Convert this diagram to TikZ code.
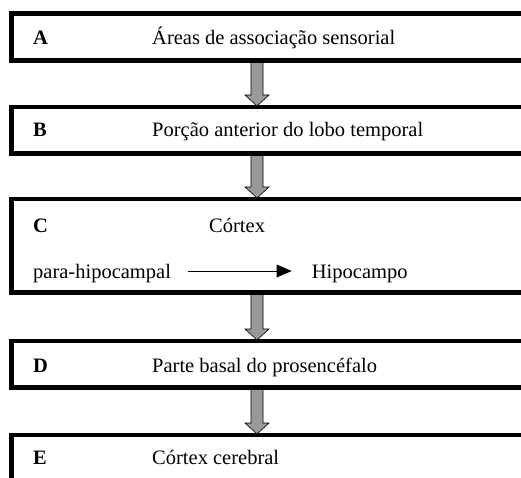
\documentclass[tikz,border=0pt]{standalone}
\usepackage{fontspec}
\setmainfont{Liberation Serif}
\usetikzlibrary{calc,arrows.meta}
\definecolor{arrowgray}{RGB}{153,153,153}
\newcommand\blkarrow[2]{%
  \draw[blockar] ($(#1)+(-6,0)$) -- ($(#2)+(-6,-11)$) -- ($(#2)+(-12,-11)$) -- (#2)
    -- ($(#2)+(12,-11)$) -- ($(#2)+(6,-11)$) -- ($(#1)+(6,0)$) -- cycle;}
\begin{document}
\begin{tikzpicture}[x=1pt,y=-1pt,
  box/.style={draw=black, line width=4.5pt, minimum width=540pt, minimum height=#1,
    anchor=north west, inner sep=0pt, outer sep=0pt},
  lbl/.style={anchor=base west, inner sep=0pt, font=\bfseries\fontsize{20.5}{24}\selectfont},
  txt/.style={anchor=base west, inner sep=0pt, font=\fontsize{20.5}{24}\selectfont},
  blockar/.style={fill=arrowgray, draw=black, line width=0.6pt, line join=miter},
  smallar/.style={line width=0.8pt, -{Triangle[length=15pt,width=12.7pt]}}]
\clip (0,0) rectangle (521,478);
\fill[white] (0,0) rectangle (521,478);
% boxes
\node[box=47pt]   (A) at (11.5,13.5) {};
\node[box=46.5pt] (B) at (11.5,107) {};
\node[box=93.5pt] (C) at (11.5,199) {};
\node[box=46.5pt] (D) at (11.5,341) {};
\node[box=80pt]   (E) at (11.5,435) {};
% arrow axis
\coordinate (ax) at (257,0);
\coordinate (a1) at ($(A.south -| ax)+(0,2)$);
\coordinate (b0) at ($(B.north -| ax)+(0,-1)$);
\coordinate (b1) at ($(B.south -| ax)+(0,2)$);
\coordinate (c0) at ($(C.north -| ax)+(0,-1)$);
\coordinate (c1) at ($(C.south -| ax)+(0,2)$);
\coordinate (d0) at ($(D.north -| ax)+(0,-1)$);
\coordinate (d1) at ($(D.south -| ax)+(0,2)$);
\coordinate (e0) at ($(E.north -| ax)+(0,-1)$);
\blkarrow{a1}{b0}
\blkarrow{b1}{c0}
\blkarrow{c1}{d0}
\blkarrow{d1}{e0}
% texts
\node[lbl] (la) at (33,45) {A};
\node[txt] (ta) at (152,45) {Áreas de associação sensorial};
\node[lbl] (lb) at (33,136.7) {B};
\node[txt] (tb) at (152,136.7) {Porção anterior do lobo temporal};
\node[lbl] (lc) at (33,232.3) {C};
\node[txt] (tc) at (209,232.3) {Córtex};
\node[txt] (ph) at (33,278.3) {para-hipocampal};
\node[txt] (hip) at (311.7,278.3) {Hipocampo};
\node[lbl] (ld) at (33,372.7) {D};
\node[txt] (td) at (152,372.7) {Parte basal do prosencéfalo};
\node[lbl] (le) at (33,464) {E};
\node[txt] (te) at (152,464) {Córtex cerebral};
\draw[smallar] ($(ph.base east)+(16.6,-7.3)$) -- ($(hip.base west)+(-20,-7.3)$);
\end{tikzpicture}
\end{document}
